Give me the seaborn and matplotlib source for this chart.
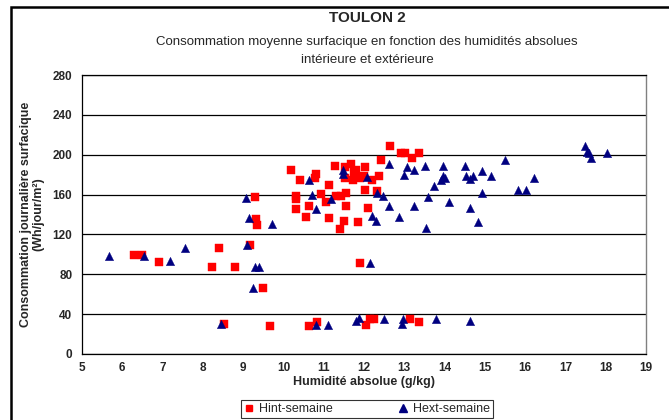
import matplotlib
matplotlib.use('Agg')
import matplotlib.pyplot as plt
import seaborn as sns
import pandas as pd
from matplotlib.lines import Line2D
from matplotlib.patches import Rectangle

# Hint-semaine (humidité intérieure)
hint_x = [6.28, 6.50, 6.90, 8.22, 8.40, 8.53, 8.79, 9.16, 9.29, 9.33, 9.35, 9.49, 9.66,
          10.19, 10.32, 10.32, 10.32, 10.40, 10.56, 10.63, 10.63, 10.78, 10.80, 10.83, 10.93,
          11.06, 11.12, 11.13, 11.28, 11.31, 11.41, 11.44, 11.51, 11.53, 11.54, 11.55, 11.55,
          11.67, 11.72, 11.76, 11.81, 11.86, 11.90, 11.91, 12.00, 12.02, 12.02, 12.04, 12.10,
          12.16, 12.20, 12.26, 12.32, 12.37, 12.42, 12.65, 12.93, 13.03, 13.15, 13.19, 13.36, 13.36]
hint_y = [99, 99, 92, 87, 106, 30, 87, 109, 158, 135, 129, 66, 28,
          185, 159, 156, 146, 175, 137, 149, 28, 177, 181, 32, 161,
          153, 170, 136, 189, 159, 125, 159, 133, 188, 177, 162, 149,
          191, 175, 183, 185, 132, 91, 177, 179, 188, 165, 29, 147,
          35, 175, 35, 164, 179, 195, 209, 202, 202, 35, 197, 202, 32]

# Hext-semaine (humidité extérieure)
hext_x = [5.66, 6.53, 7.18, 7.56, 8.46, 9.07, 9.10, 9.14, 9.24, 9.30, 9.40, 9.71,
          10.63, 10.72, 10.81, 10.81, 11.10, 11.19, 11.47, 11.48, 11.79, 11.87, 12.08, 12.15,
          12.20, 12.30, 12.33, 12.46, 12.50, 12.62, 12.63, 12.87, 12.94, 12.97, 12.99, 13.06,
          13.25, 13.25, 13.51, 13.55, 13.58, 13.74, 13.78, 13.92, 13.95, 13.97, 14.02, 14.12,
          14.50, 14.54, 14.62, 14.63, 14.64, 14.71, 14.82, 14.92, 14.92, 15.16, 15.51, 15.82,
          16.03, 16.21, 17.48, 17.53, 17.59, 17.63, 18.03]
hext_y = [98, 98, 93, 106, 30, 157, 109, 136, 66, 87, 87, 130,
          175, 160, 146, 29, 29, 156, 185, 181, 33, 36, 178, 91,
          138, 133, 162, 159, 35, 149, 191, 137, 30, 35, 180, 188,
          185, 149, 189, 126, 158, 169, 35, 175, 189, 179, 177, 153,
          189, 179, 33, 176, 147, 179, 132, 184, 162, 179, 195, 165,
          165, 177, 209, 203, 202, 197, 202]

x_ticks = list(range(5, 20))
y_ticks = list(range(0, 281, 40))

sns.set_style('white')
plt.rcParams['font.family'] = ['Liberation Sans', 'DejaVu Sans']

W, H = 669, 420
fig = plt.figure(figsize=(W / 100, H / 100), dpi=100)
ax = fig.add_axes([82 / W, 1 - 354 / H, (646 - 82) / W, (354 - 75) / H])

df_int = pd.DataFrame({'x': hint_x, 'y': hint_y})
df_ext = pd.DataFrame({'x': hext_x, 'y': hext_y})
red = '#FF0000'
navy = '#000080'
sns.scatterplot(data=df_int, x='x', y='y', ax=ax, marker='s', color=red, s=27,
                edgecolor=red, linewidth=0.3, zorder=3)
sns.scatterplot(data=df_ext, x='x', y='y', ax=ax, marker='^', color=navy, s=36,
                edgecolor=navy, linewidth=0.3, zorder=4)

ax.set_xlim(5, 19)
ax.set_ylim(0, 280)
ax.set_xticks(x_ticks)
ax.set_yticks(y_ticks)
ax.yaxis.grid(True, color='black', linewidth=0.9)
ax.set_axisbelow(True)
for side in ['left', 'bottom', 'top']:
    ax.spines[side].set_color('black')
    ax.spines[side].set_linewidth(0.9)
ax.spines['right'].set_color('#808080')
ax.spines['right'].set_linewidth(1.0)
ax.tick_params(direction='out', length=4, width=0.8, color='black', labelsize=8.5, pad=3)
ax.tick_params(axis='x', direction='inout', length=6)
for lab in ax.get_xticklabels() + ax.get_yticklabels():
    lab.set_fontweight('bold')

ax.set_xlabel('Humidité absolue (g/kg)', fontsize=9, fontweight='bold', labelpad=1)
ax.set_ylabel('Consommation journalière surfacique\n(Wh/jour/m²)', fontsize=9,
              fontweight='bold', labelpad=6, linespacing=1.0)

fig.text(367 / W, 1 - 18 / H, 'TOULON 2', ha='center', va='center',
         fontsize=11, fontweight='bold')
fig.text(367 / W, 1 - 51 / H,
         'Consommation moyenne surfacique en fonction des humidités absolues\nintérieure et extérieure',
         ha='center', va='center', fontsize=9.5, linespacing=1.6)

handles = [Line2D([], [], marker='s', color=red, linestyle='none', markersize=5),
           Line2D([], [], marker='^', color=navy, linestyle='none', markersize=6)]
leg = fig.legend(handles, ['Hint-semaine', 'Hext-semaine'], ncol=2, loc='center',
                 bbox_to_anchor=(367 / W, 1 - 409 / H), frameon=True, fancybox=False,
                 edgecolor='black', fontsize=9, handlelength=0.8, handletextpad=0.4,
                 columnspacing=5.2, borderpad=0.25, borderaxespad=0)
leg.get_frame().set_linewidth(0.8)

fig.patches.append(Rectangle((11 / W, -0.05), 1.1, 1 - 7 / H + 0.05,
                             transform=fig.transFigure, fill=False,
                             edgecolor='black', linewidth=1.8))

fig.savefig('out.png', dpi=100)
